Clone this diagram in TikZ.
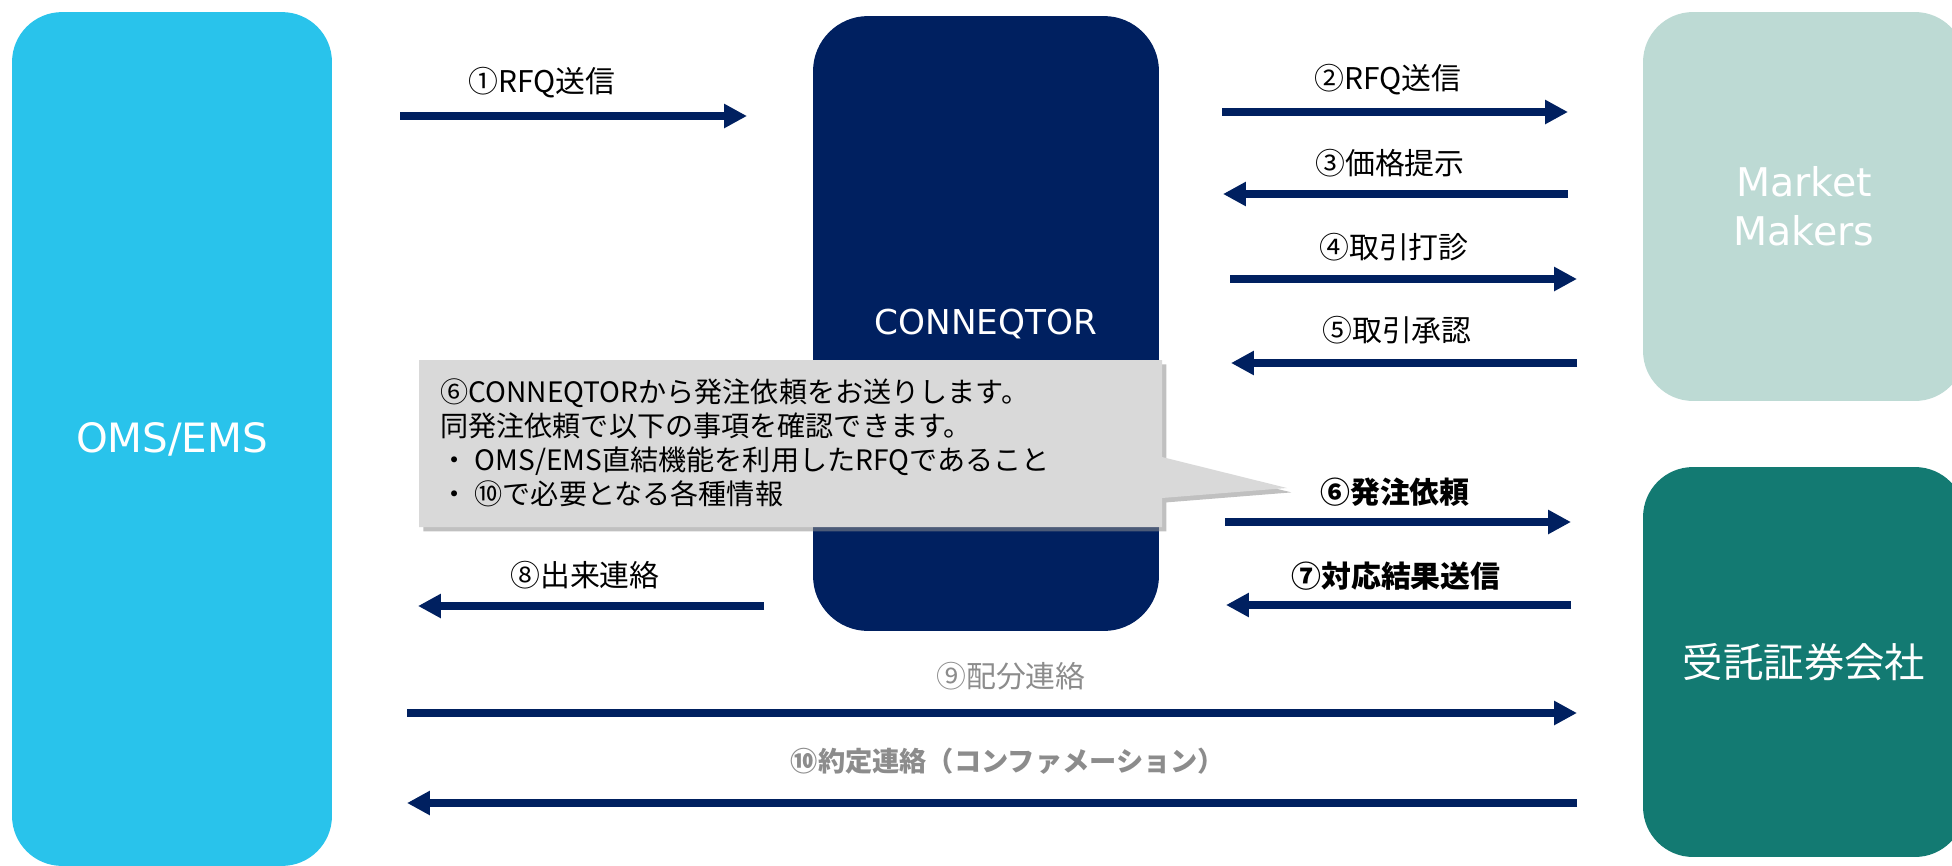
\documentclass[tikz,border=0pt]{standalone}
\usepackage{fontspec}
\setmainfont{Noto Sans CJK JP}
\newfontfamily\boxfont{DejaVu Sans}
\usetikzlibrary{arrows.meta,shadows}

\definecolor{omsblue}{HTML}{29C3EB}
\definecolor{cqnavy}{HTML}{002060}
\definecolor{mmgreen}{HTML}{BDDAD4}
\definecolor{brkteal}{HTML}{137A72}
\definecolor{notegray}{HTML}{D9D9D9}
\definecolor{lblgray}{HTML}{8C8C8C}

\begin{document}
\begin{tikzpicture}[x=0.02cm,y=-0.02cm,
    box/.style={rounded corners=1cm, text=white, align=center, inner sep=0pt},
    flow/.style={cqnavy, line width=4.5pt, -{Triangle[length=13pt,width=13pt]}},
    lbl/.style={font=\fontsize{17}{20}\selectfont}]
    \useasboundingbox (0,0) rectangle (1952,866);
    % Participants
    \node[box, fill=omsblue, minimum width=6.4cm, minimum height=17.08cm, font=\boxfont\fontsize{23}{27}\selectfont] (oms) at (172,439) {OMS/EMS};
    \node[box, fill=cqnavy, rounded corners=1.1cm, minimum width=6.92cm, minimum height=12.3cm, font=\boxfont\fontsize{19.5}{23}\selectfont] (cq) at (986,323.5) {CONNEQTOR};
    \node[box, fill=mmgreen, minimum width=6.44cm, minimum height=7.78cm, font=\boxfont\fontsize{22.5}{28}\selectfont] (mm) at (1804,206.5) {Market\\Makers};
    \node[box, fill=brkteal, minimum width=6.44cm, minimum height=7.8cm, font=\fontsize{23}{27}\selectfont] (brk) at (1804,662) {受託証券会社};
    % Callout on the order request
    \draw[fill=notegray, draw=none, drop shadow={shadow xshift=2.5pt, shadow yshift=-2.5pt, fill=black!45, opacity=0.55}]
        (419,360) -- (1162,360) -- (1162,457) -- (1287,488) -- (1162,498) -- (1162,527) -- (419,527) -- cycle;
    \node[anchor=west, align=left, inner sep=0pt, font=\fontsize{16}{19.3}\selectfont] (note) at (440,443)
        {⑥CONNEQTORから発注依頼をお送りします。\\同発注依頼で以下の事項を確認できます。\\・ OMS/EMS直結機能を利用したRFQであること\\・ ⑩で必要となる各種情報};
    % Arrow ends
    \coordinate (s1) at (400,116);   \coordinate (e1) at (747,116);
    \coordinate (s2) at (1222,112);  \coordinate (e2) at (1568,112);
    \coordinate (s3) at (1568,194);  \coordinate (e3) at (1223,194);
    \coordinate (s4) at (1230,279);  \coordinate (e4) at (1577,279);
    \coordinate (s5) at (1577,363);  \coordinate (e5) at (1231,363);
    \coordinate (s6) at (1225,522);  \coordinate (e6) at (1571,522);
    \coordinate (s7) at (1571,605);  \coordinate (e7) at (1226,605);
    \coordinate (s8) at (764,606);   \coordinate (e8) at (418,606);
    \coordinate (s9) at (407,713);   \coordinate (e9) at (1577,713);
    \coordinate (s10) at (1577,803); \coordinate (e10) at (407,803);
    % Flows
    \draw[flow] (s1) -- (e1);
    \node[lbl] (l1) at (542,83) {①RFQ送信};
    \draw[flow] (s2) -- (e2);
    \node[lbl] (l2) at (1388,80) {②RFQ送信};
    \draw[flow] (s3) -- (e3);
    \node[lbl] (l3) at (1390,163) {③価格提示};
    \draw[flow] (s4) -- (e4);
    \node[lbl] (l4) at (1394,247) {④取引打診};
    \draw[flow] (s5) -- (e5);
    \node[lbl] (l5) at (1397,330) {⑤取引承認};
    \draw[flow] (s6) -- (e6);
    \node[lbl, font=\fontsize{17}{20}\selectfont\bfseries] (l6) at (1395,492) {⑥発注依頼};
    \draw[flow] (s7) -- (e7);
    \node[lbl, font=\fontsize{17}{20}\selectfont\bfseries] (l7) at (1396,576) {⑦対応結果送信};
    \draw[flow] (s8) -- (e8);
    \node[lbl] (l8) at (585,575) {⑧出来連絡};
    \draw[flow] (s9) -- (e9);
    \node[lbl, text=lblgray] (l9) at (1011,676) {⑨配分連絡};
    \draw[flow] (s10) -- (e10);
    \node[lbl, text=lblgray, font=\fontsize{15.5}{18}\selectfont\bfseries] (l10) at (1008,761) {⑩約定連絡（コンファメーション）};
\end{tikzpicture}
\end{document}
